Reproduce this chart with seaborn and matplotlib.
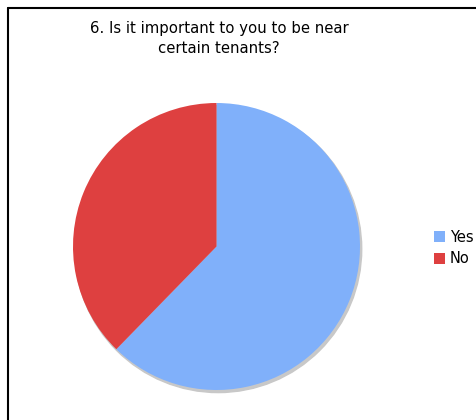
import matplotlib
matplotlib.use("Agg")
import matplotlib.pyplot as plt
import seaborn as sns
from matplotlib.patches import Circle, Patch
from matplotlib.lines import Line2D

sns.set_style("white")
plt.rcParams["font.family"] = ["DejaVu Sans"]

# Survey answers (share of respondents)
answers = ["Yes", "No"]
shares = [62.3, 37.7]
colors = ["#80b0fa", "#de4040"]
title = "6. Is it important to you to be near\ncertain tenants?"

W, H = 476, 420
fig = plt.figure(figsize=(W / 100, H / 100), dpi=100)
fig.patch.set_facecolor("white")

# Frame around the chart (top and left edges visible)
fig.add_artist(Line2D([8 / W, 8 / W], [0, 1 - 8 / H], color="black", lw=1.5,
                      transform=fig.transFigure))
fig.add_artist(Line2D([8 / W, 1], [1 - 8 / H, 1 - 8 / H], color="black", lw=1.5,
                      transform=fig.transFigure))

cx, cy, r = 216.5, 246.5, 143.5
ax = fig.add_axes([(cx - r) / W, (H - cy - r) / H, 2 * r / W, 2 * r / H])

# soft drop shadow under the pie
ax.add_patch(Circle((0.012, -0.018), 1.0, color="#c8c8c8", zorder=0,
                    clip_on=False))
ax.pie(shares, colors=colors, startangle=90, counterclock=False, radius=1.0,
       wedgeprops=dict(linewidth=0))
ax.set_xlim(-1.0, 1.0)
ax.set_ylim(-1.0, 1.0)
ax.set_aspect("equal")
ax.axis("off")

fig.text(219 / W, 1 - 21 / H, title, ha="center", va="top", fontsize=10.7,
         linespacing=1.38, color="black")

handles = [Patch(facecolor=c, edgecolor="none") for c in colors]
fig.legend(handles, answers, loc="center left",
           bbox_to_anchor=(428 / W, 1 - 248 / H), frameon=False,
           fontsize=10.5, handlelength=0.75, handleheight=0.75,
           handletextpad=0.35, labelspacing=0.45, borderaxespad=0,
           labelcolor="black")

fig.savefig("out.png", dpi=100)
